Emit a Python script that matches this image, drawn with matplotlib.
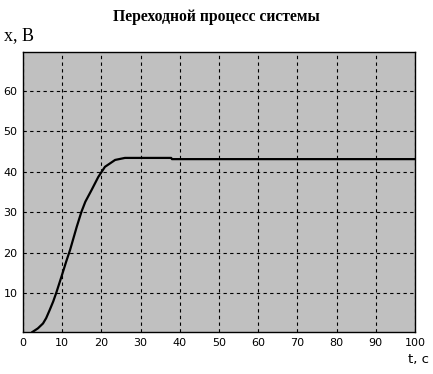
import matplotlib
matplotlib.use("Agg")
import matplotlib.pyplot as plt

t = [2.4, 3.8, 5.1, 5.9, 6.8, 7.7, 8.5, 9.8, 11.0, 12.0, 13.7, 14.9, 15.9, 17.5, 19.2, 20.9, 23.5, 26.0, 37.8, 38.0, 100.0]
x = [0.5, 1.4, 2.6, 3.9, 5.9, 8.0, 10.2, 14.1, 17.8, 20.7, 26.4, 30.1, 32.6, 35.5, 38.7, 41.2, 42.9, 43.4, 43.4, 43.1, 43.1]
xticks = [0, 10, 20, 30, 40, 50, 60, 70, 80, 90, 100]
yticks = [10, 20, 30, 40, 50, 60]

fig = plt.figure(figsize=(4.33, 3.74), dpi=100)
ax = fig.add_axes([23/433, 42/374, 392/433, 280/374])
ax.set_facecolor('#c0c0c0')
ax.plot(t, x, color='black', lw=1.6)
ax.set_xlim(0, 100)
ax.set_ylim(0.5, 69.5)
ax.set_xticks(xticks)
ax.set_yticks(yticks)
ax.tick_params(length=0, labelsize=8, pad=4)
for lab in ax.get_xticklabels() + ax.get_yticklabels():
    lab.set_family('DejaVu Sans')
ax.grid(True, color='black', linestyle=(0, (3, 3)), lw=0.8)
for s in ax.spines.values():
    s.set_linewidth(1.0)
    s.set_color('black')
fig.text(0.5, 1 - 17/374, 'Переходной процесс системы', ha='center', va='center',
         family='Liberation Serif', fontweight='bold', fontsize=11.3)
fig.text(4/433, 1 - 36/374, 'x, B', ha='left', va='center', family='Liberation Serif', fontsize=13)
fig.text(429/433, 1 - 360/374, 't, c', ha='right', va='center', family='DejaVu Sans', fontsize=9.5)
fig.savefig('out.png', dpi=100)
